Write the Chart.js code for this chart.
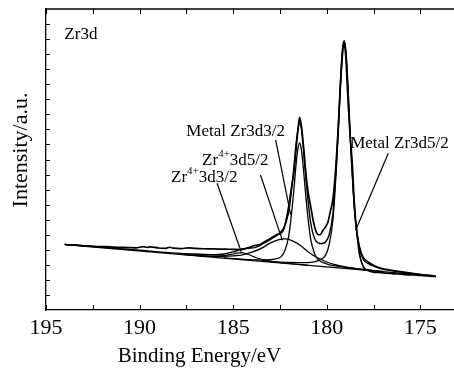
<!DOCTYPE html>
<html>
<head>
<meta charset="utf-8">
<title>Zr3d XPS</title>
<script src="https://cdn.jsdelivr.net/npm/chart.js"></script>
<style>
  body { margin: 0; background: #fff; }
</style>
</head>
<body>
<canvas id="myChart" width="454" height="376"></canvas>
<script>
// measured spectrum (binding energy in eV, intensity in arbitrary units)
const rawE = [194.0,193.7,193.4,193.0,192.6,192.2,191.8,191.4,191.0,190.6,190.2,189.8,189.6,189.4,189.0,188.6,188.4,188.2,187.8,187.4,187.0,186.6,186.2,185.8,185.4,185.0,184.6,184.3,184.0,183.8,183.54,183.3,183.0,182.7,182.37,182.2,182.02,181.9,181.75,181.6,181.5,181.45,181.35,181.25,181.13,181.0,180.86,180.7,180.55,180.45,180.35,180.2,180.05,179.93,179.8,179.69,179.6,179.52,179.4,179.3,179.2,179.08,178.98,178.86,178.75,178.62,178.55,178.45,178.35,178.27,178.15,178.0,177.8,177.5,177.2,176.8,176.4,176.0,175.6,175.2,174.8,174.4,174.16];
const rawI = [4.37,4.31,4.33,4.27,4.25,4.22,4.21,4.18,4.16,4.15,4.13,4.21,4.16,4.20,4.12,4.10,4.17,4.11,4.08,4.13,4.09,4.07,4.06,4.05,4.04,4.03,4.02,4.10,4.22,4.30,4.36,4.55,4.76,4.98,5.20,5.80,6.98,8.0,9.19,11.2,12.4,12.8,12.2,11.0,9.3,7.9,6.9,5.8,5.15,5.0,5.0,5.3,5.55,5.87,6.6,7.2,8.2,9.4,11.8,14.2,16.3,17.83,16.8,13.84,11.6,9.43,7.6,5.9,4.7,3.87,3.2,2.79,2.62,2.52,2.50,2.44,2.40,2.38,2.33,2.32,2.28,2.24,2.22];

// fitted envelope
const fitE = [194.0,192.0,190.0,188.0,187.0,186.0,185.5,185.0,184.6,184.2,183.8,183.5,183.0,182.6,182.3,182.05,181.95,181.85,181.75,181.65,181.55,181.45,181.35,181.25,181.15,181.05,180.95,180.85,180.65,180.45,180.3,180.15,180.07,179.87,179.67,179.57,179.47,179.37,179.27,179.17,179.07,178.97,178.87,178.77,178.67,178.57,178.47,178.27,178.07,177.77,177.47,177.07,176.07,175.0,174.2];
const fitI = [4.36,4.17,3.97,3.78,3.72,3.68,3.72,3.86,4.02,4.10,4.16,4.34,4.69,5.03,5.45,6.41,7.25,8.33,9.56,10.9,11.9,12.45,11.96,10.77,9.24,7.89,6.69,5.74,4.75,4.45,4.42,4.45,4.52,5.0,6.41,8.02,10.07,12.44,15.12,17.19,17.9,17.14,15.01,12.27,9.84,7.71,6.03,4.33,3.55,3.18,2.97,2.78,2.56,2.37,2.27];

// background
const bgE = [194.0, 174.2];
const bgI = [4.35, 2.25];

// metal Zr 3d5/2 component
const m52E = [183.5,182.07,181.07,180.67,180.37,180.07,179.87,179.67,179.57,179.47,179.37,179.27,179.17,179.07,178.97,178.87,178.77,178.67,178.57,178.47,178.27,178.07,177.77,177.47,177.07,176.07,175.0,174.2];
const m52I = [3.27,3.16,3.15,3.20,3.33,3.63,4.34,5.98,7.63,9.72,12.12,14.83,16.93,17.82,16.91,14.79,12.08,9.67,7.57,5.92,4.19,3.41,3.08,2.90,2.73,2.52,2.36,2.27];

// metal Zr 3d3/2 component
const m32E = [185.5,184.45,183.45,183.05,182.75,182.45,182.25,182.05,181.95,181.85,181.75,181.65,181.55,181.45,181.35,181.25,181.15,181.05,180.95,180.85,180.65,180.45,180.15,179.85,179.45,178.45,177.5];
const m32I = [3.47,3.37,3.33,3.35,3.40,3.53,3.91,4.78,5.66,6.78,8.06,9.51,10.63,11.10,10.61,9.46,8.00,6.70,5.55,4.66,3.74,3.33,3.13,3.00,2.91,2.74,2.62];

// Zr4+ 3d5/2 component
const z52E = [188.0,187.0,186.5,186.0,185.5,185.0,184.5,184.0,183.5,183.0,182.6,182.2,181.8,181.4,181.0,180.5,180.0,179.5,179.0,178.5,178.0,177.0];
const z52I = [3.72,3.63,3.57,3.57,3.57,3.60,3.67,3.84,4.09,4.46,4.66,4.72,4.58,4.28,3.87,3.47,3.19,2.99,2.86,2.77,2.68,2.56];

// Zr4+ 3d3/2 component
const z32E = [188.0,187.0,186.0,185.5,185.0,184.6,184.2,183.8,183.3,182.8,182.0,181.0];
const z32I = [3.72,3.64,3.58,3.62,3.72,3.81,3.69,3.49,3.31,3.20,3.09,2.97];

// annotation leader lines, [start, end]
const leadE = [[182.73, 181.93], [183.54, 182.37], [185.86, 184.57], [176.71, 178.45]];
const leadI = [[11.3, 6.34], [8.97, 4.63], [8.42, 3.87], [10.41, 5.32]];

// annotation texts ('|' marks superscript part), anchored at left/baseline
const noteText = ['Zr3d', 'Metal Zr3d3/2', 'Zr|4+|3d5/2', 'Zr|4+|3d3/2', 'Metal Zr3d5/2'];
const noteE = [194.02, 187.5, 186.66, 188.32, 178.75];
const noteI = [18.01, 11.56, 9.63, 8.52, 10.76];

const xTicks = [195, 192.5, 190, 187.5, 185, 182.5, 180, 177.5, 175];
const yTicks = [1,2,3,4,5,6,7,8,9,10,11,12,13,14,15,16,17,18,19];
const xTitle = 'Binding Energy/eV';
const yTitle = 'Intensity/a.u.';

const serif = '"Liberation Serif", "DejaVu Serif", serif';

const pts = (e, i) => e.map((v, k) => ({x: v, y: i[k]}));
const curve = (e, i, w) => ({
  data: pts(e, i),
  borderColor: '#000',
  borderWidth: w,
  pointRadius: 0,
  showLine: true,
  fill: false,
  cubicInterpolationMode: 'monotone'
});

const datasets = [
  curve(bgE, bgI, 1.3),
  curve(z32E, z32I, 1.2),
  curve(z52E, z52I, 1.3),
  curve(m32E, m32I, 1.3),
  curve(m52E, m52I, 1.3),
  curve(fitE, fitI, 1.4),
  curve(rawE, rawI, 1.7)
];
leadE.forEach((e, k) => {
  datasets.push({
    data: pts(e, leadI[k]),
    borderColor: '#000',
    borderWidth: 1.2,
    pointRadius: 0,
    showLine: true,
    tension: 0
  });
});

const frame = {
  id: 'frame',
  afterDraw(chart) {
    const ctx = chart.ctx;
    const a = chart.chartArea;
    const xs = chart.scales.x, ys = chart.scales.y;
    ctx.save();
    ctx.strokeStyle = '#000';
    ctx.lineWidth = 1.3;
    ctx.beginPath();
    ctx.moveTo(a.left, a.top);
    ctx.lineTo(a.right, a.top);
    ctx.stroke();
    ctx.lineWidth = 1;
    ctx.beginPath();
    xTicks.forEach(v => {
      const px = Math.round(xs.getPixelForValue(v)) + 0.5;
      ctx.moveTo(px, a.bottom);
      ctx.lineTo(px, a.bottom - 5);
      ctx.moveTo(px, a.top);
      ctx.lineTo(px, a.top + 5);
    });
    yTicks.forEach(v => {
      const py = Math.round(ys.getPixelForValue(v)) + 0.5;
      ctx.moveTo(a.left, py);
      ctx.lineTo(a.left + 4, py);
    });
    ctx.stroke();

    // annotations
    ctx.fillStyle = '#000';
    ctx.textBaseline = 'alphabetic';
    ctx.textAlign = 'left';
    noteText.forEach((t, k) => {
      let x = xs.getPixelForValue(noteE[k]);
      const y = ys.getPixelForValue(noteI[k]);
      t.split('|').forEach((part, j) => {
        const sup = j === 1;
        ctx.font = (sup ? '11px ' : '17px ') + serif;
        ctx.fillText(part, x, sup ? y - 8 : y);
        x += ctx.measureText(part).width;
      });
    });

    // axis titles
    ctx.font = '21px ' + serif;
    ctx.textAlign = 'center';
    ctx.fillText(xTitle, 199.5, 362);
    ctx.font = '22px ' + serif;
    ctx.translate(21, 150);
    ctx.rotate(-Math.PI / 2);
    ctx.textBaseline = 'middle';
    ctx.fillText(yTitle, 0, 0);
    ctx.restore();
  }
};

new Chart(document.getElementById('myChart').getContext('2d'), {
  type: 'scatter',
  data: { datasets },
  options: {
    responsive: false,
    animation: false,
    events: [],
    layout: { padding: { left: 0, right: 0, top: 9, bottom: 0 } },
    plugins: { legend: { display: false }, tooltip: { enabled: false } },
    scales: {
      x: {
        type: 'linear',
        reverse: true,
        min: 173.2,
        max: 195,
        afterFit(s) { s.height = 66; s.paddingLeft = 0; s.paddingRight = 0; },
        grid: { display: false, drawTicks: false },
        border: { display: true, color: '#000', width: 1.3 },
        ticks: {
          stepSize: 2.5,
          includeBounds: false,
          autoSkip: false,
          maxRotation: 0,
          padding: 5,
          color: '#000',
          font: { family: serif, size: 22 },
          callback: v => (v % 5 === 0 ? String(v) : '')
        }
      },
      y: {
        min: 0,
        max: 20,
        afterFit(s) { s.width = 46; s.paddingTop = 0; s.paddingBottom = 0; },
        grid: { display: false, drawTicks: false },
        border: { display: true, color: '#000', width: 1.3 },
        ticks: { display: false, stepSize: 1 }
      }
    }
  },
  plugins: [frame]
});
</script>
</body>
</html>
